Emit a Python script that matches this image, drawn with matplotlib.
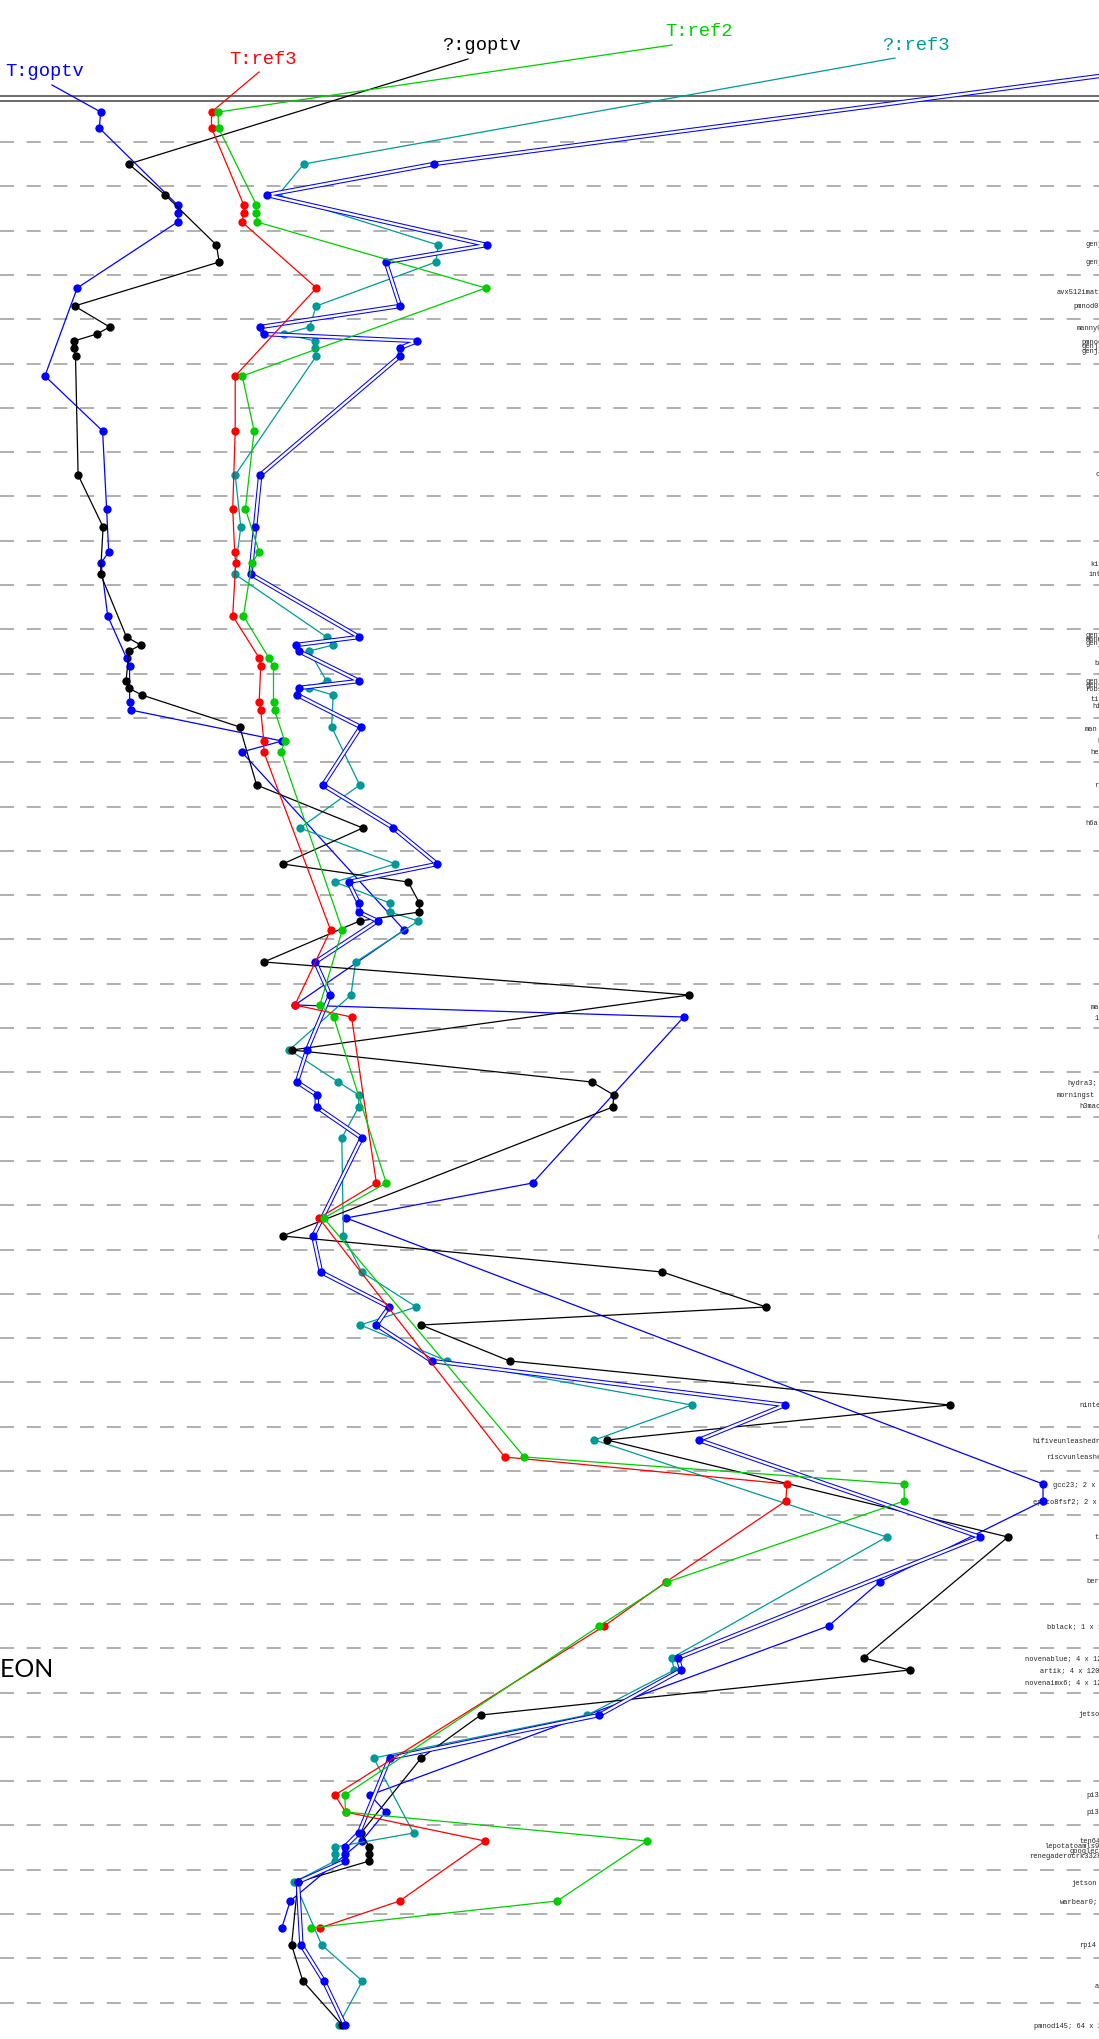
import numpy as np
import matplotlib.pyplot as plt

plt.rcParams['lines.scale_dashes'] = False

n = np.nan

# machine rows of the dot chart (top to bottom)
row_y = [113, 129, 165, 196, 206, 214, 223, 246, 263, 289,
         307, 328, 335, 342, 349, 357, 377, 432, 476, 510,
         528, 553, 564, 575, 617, 638, 646, 652, 659, 667,
         682, 689, 696, 703, 711, 728, 742, 753, 786, 829,
         865, 883, 904, 913, 922, 931, 963, 996, 1006, 1018,
         1051, 1083, 1096, 1108, 1139, 1184, 1219, 1237, 1273, 1308,
         1326, 1362, 1406, 1441, 1458, 1485, 1502, 1538, 1583, 1627,
         1659, 1671, 1716, 1759, 1796, 1813, 1834, 1842, 1848, 1855,
         1862, 1883, 1902, 1929, 1946, 1982, 2026]

t_goptv = [100.7, 99.3, n, n, 177.5, 178.2, 177.5, n, n, 77.2,
           n, n, n, n, n, n, 44.9, 102.6, n, 106.6,
           n, 108.7, 101, n, 107.7, n, n, n, 126.5, 129.6,
           n, n, n, 129.6, 130.6, n, 282, 241.8, n, n,
           n, n, n, n, n, 404.1, n, n, 294.9, 683.7,
           n, n, n, n, n, 532.7, 346.2, n, n, n,
           n, n, n, n, n, 1043, 1043, n, 879.6, 828.5,
           n, n, n, n, 370.1, 385.5, n, 361.7, n, n,
           n, n, 290.2, 281.8, n, n, n]

t_ref3 = [211.5, 211.5, n, n, 243.8, 243.8, 242.0, n, n, 316.4,
          n, n, n, n, n, n, 235.2, 235.2, n, 232.7,
          n, 234.7, 235.7, n, 232.7, n, n, n, 259.2, 260.7,
          n, n, n, 259.2, 260.7, n, 263.8, 263.8, n, n,
          n, n, n, n, n, 330.6, n, n, 294.9, 351.5,
          n, n, n, n, n, 376.4, 318.9, n, n, n,
          n, n, n, n, 504.6, 787.1, 785.7, n, 665.9, 604.2,
          n, n, n, n, 335, 345.5, n, 485, n, n,
          n, n, 399.5, 319.6, n, n, n]

t_ref2 = [218.1, 218.5, n, n, 256.4, 256.4, 257.1, n, n, 485.8,
          n, n, n, n, n, n, 242.3, 254.1, n, 245.4,
          n, 259.2, 252, n, 243.4, n, n, n, 268.9, 273.5,
          n, n, n, 273.5, 274.5, n, 284.7, 281.1, n, n,
          n, n, n, n, n, 342.3, n, n, 319.9, 333.7,
          n, n, n, n, n, 386.2, 323.8, n, n, n,
          n, n, n, n, 524.3, 904.2, 904.2, n, 667.3, 599.3,
          n, n, n, n, 344.8, 345.5, n, 647, n, n,
          n, n, 557.2, 310.5, n, n, n]

q_goptv = [n, n, 128.7, 165.2, n, n, n, 216.4, 219.2, n,
           74.5, 109.7, 96.9, 74, 74, 75.5, n, n, 78.1, n,
           103.1, n, n, 100.5, n, 126.5, 140.8, 129.1, n, n,
           126, 128.6, 141.8, n, n, 239.8, n, n, 256.6, 362.8,
           282.7, 408.2, 419.4, 419.4, 359.7, n, 263.8, 689.3, n, n,
           291.8, 591.8, 613.8, 612.8, n, n, n, 282.5, 662.3, 766.1,
           421.2, 509.6, 949.7, 607, n, n, n, 1007.9, n, n,
           863.5, 909.8, 480.8, 421.2, n, n, 361, n, 369.4, 369.4,
           369.4, 297.9, n, n, 291.6, 302.8, 342]

q_ref3 = [n, n, 303.8, 278.1, n, n, n, 438.1, 436.0, n,
          316.3, 309.5, 284.2, 315.3, 315.3, 316.3, n, n, 235.2, n,
          240.8, n, n, 234.7, n, 326.5, 333.2, 309.2, n, n,
          326.5, 309.2, 333.2, n, n, 331.6, n, n, 359.7, 300,
          395.4, 334.7, 389.8, 389.8, 418.4, n, 355.6, 351, n, n,
          289.3, 338.3, 358.7, 358.7, 341.8, n, n, 343.4, 361.7, 416.3,
          360.3, 447.2, 691.8, 594.4, n, n, n, 886.6, n, n,
          671.5, 674.3, 587.4, 373.6, n, n, 413.5, n, 335, 335,
          335, 294.4, n, n, 321.7, 362.4, 338.5]

q_ref2 = [n, n, 433.9, 266.6, n, n, n, 486.8, 385.8, n,
          400, 260.2, 263.5, 417.3, 400, 400, n, n, 260.2, n,
          255.1, n, n, 250.5, n, 359.2, 295.9, 298.5, n, n,
          359.2, 298.5, 297.4, n, n, 360.7, n, n, 323, 393.4,
          437.2, 348.5, 358.7, 358.7, 377.6, n, 315.3, 330.1, n, n,
          307.1, 296.9, 316.8, 316.8, 361.7, n, n, 313.3, 321, 389,
          376.4, 431.8, 785, 698.8, n, n, n, 979.9, n, n,
          677.8, 681.3, 599.3, 389.7, n, n, 358.9, n, 344.8, 344.8,
          344.8, 297.9, n, n, 301.4, 323.8, 344.8]

# right-hand machine labels (mostly cut by the page edge)
machines = [("genji122", 245, 1086), ("genji123", 263, 1086),
            ("avx512imatt", 292, 1057), ("pmnod07;", 307, 1073),
            ("manny0;", 328, 1077), ("pmnod", 342.7, 1081),
            ("genji", 347, 1081), ("genji", 351.3, 1081),
            ("cx", 475, 1096), ("kiv", 565, 1090), ("int", 575, 1089),
            ("genji", 636, 1086), ("manny", 640, 1086), ("genji", 644, 1086),
            ("bx", 664, 1094), ("genji", 682, 1086), ("genji", 686, 1086),
            ("robin", 690, 1085), ("tiv", 700, 1090), ("hi", 707, 1092),
            ("man", 730, 1085), ("h", 742, 1097), ("he", 753, 1090),
            ("r", 786, 1094), ("h6a", 824, 1085), ("ma", 1008, 1091),
            ("1", 1019, 1095), ("hydra3;", 1084, 1067),
            ("morningst", 1096, 1057), ("h3mac", 1107, 1079),
            ("n", 1238, 1097), ("ninte", 1406, 1079),
            ("hifiveunleashedr", 1442, 1032), ("riscvunleashe", 1458, 1046),
            ("gcc23; 2 x 2", 1486, 1053), ("epyco8fsf2; 2 x 2", 1503, 1033),
            ("t", 1538, 1094), ("ber", 1582, 1086),
            ("bblack; 1 x 1", 1627, 1047),
            ("novenablue; 4 x 12", 1659, 1025), ("artik; 4 x 120", 1671, 1040),
            ("novenaimx6; 4 x 12", 1683, 1025), ("jetso", 1715, 1079),
            ("pi3", 1796, 1086), ("pi3", 1813, 1086),
            ("ten64", 1841.5, 1079), ("lepotatoamls9", 1846.5, 1044),
            ("googleco", 1851.5, 1070), ("renegaderocrk3328", 1856.5, 1029),
            ("jetson", 1884, 1072), ("warbear0;", 1902, 1060),
            ("rpi4", 1946, 1079), ("a", 1987, 1095),
            ("pmnod145; 64 x 2", 2027, 1034)]

BLUE = '#0000ff'
RED = '#ff0000'
GREEN = '#00cc00'
TEAL = '#009999'

# name, values, colour, label position, leader start, double line
# (the double blue series has its label beyond the right edge)
series = [
    ("T:goptv", t_goptv, BLUE, (45, 72), (52, 86), False),
    ("?:ref3", q_ref3, TEAL, (916, 45), (895, 59), False),
    ("?:goptv", q_goptv, 'black', (481, 45), (468, 60), False),
    (None, q_ref2, BLUE, None, (1160, 69), True),
    ("T:ref3", t_ref3, RED, (263, 59), (259, 73), False),
    ("T:ref2", t_ref2, GREEN, (699, 32), (672, 46), False),
]

fig = plt.figure(figsize=(10.99, 20.40), dpi=100)
ax = fig.add_axes([0, 0, 1, 1])
ax.set_xlim(0, 1099)
ax.set_ylim(2040, 0)
ax.axis('off')

# band separators
band_top, band_h, n_bands = 143, 44.3, 43
for k in range(n_bands):
    yy = band_top + k * band_h
    ax.plot([0, 1099], [yy, yy], color='#9a9a9a', lw=1.1,
            dashes=(10.1, 9.1), zorder=1)
for yy in (97.3, 102):
    ax.plot([0, 1099], [yy, yy], color='#444444', lw=1.1, zorder=1)

ys = np.array(row_y, dtype=float)
for zi, (name, vals, col, lab_xy, lead_xy, dbl) in enumerate(series):
    xs = np.array(vals, dtype=float)
    ok = ~np.isnan(xs)
    px, py = xs[ok], ys[ok]
    lx = [lead_xy[0], px[0]]
    ly = [lead_xy[1], py[0]]
    z = 3 + zi
    if dbl:
        ax.plot(lx, ly, color=col, lw=3.2, solid_capstyle='butt', zorder=z)
        ax.plot(lx, ly, color='white', lw=1.7, solid_capstyle='butt', zorder=z)
        ax.plot(px, py, color=col, lw=3.2, zorder=z)
        ax.plot(px, py, color='white', lw=1.7, zorder=z)
    else:
        ax.plot(lx, ly, color=col, lw=0.9, zorder=z)
        ax.plot(px, py, color=col, lw=0.9, zorder=z)
    ax.plot(px, py, 'o', color=col, ms=6, mew=0, zorder=z)
    if name:
        ax.text(lab_xy[0], lab_xy[1], name, color=col, fontsize=13.5,
                family='Liberation Mono', ha='center', va='center')

for txt, yy, xx in machines:
    ax.text(xx, yy, txt, fontsize=5, family='Liberation Mono',
            color='#222222', ha='left', va='center', zorder=2)

ax.text(54, 1670, "NEON", fontsize=18, family='Lato', color='black',
        ha='right', va='center')

fig.savefig('out.png', dpi=100)
